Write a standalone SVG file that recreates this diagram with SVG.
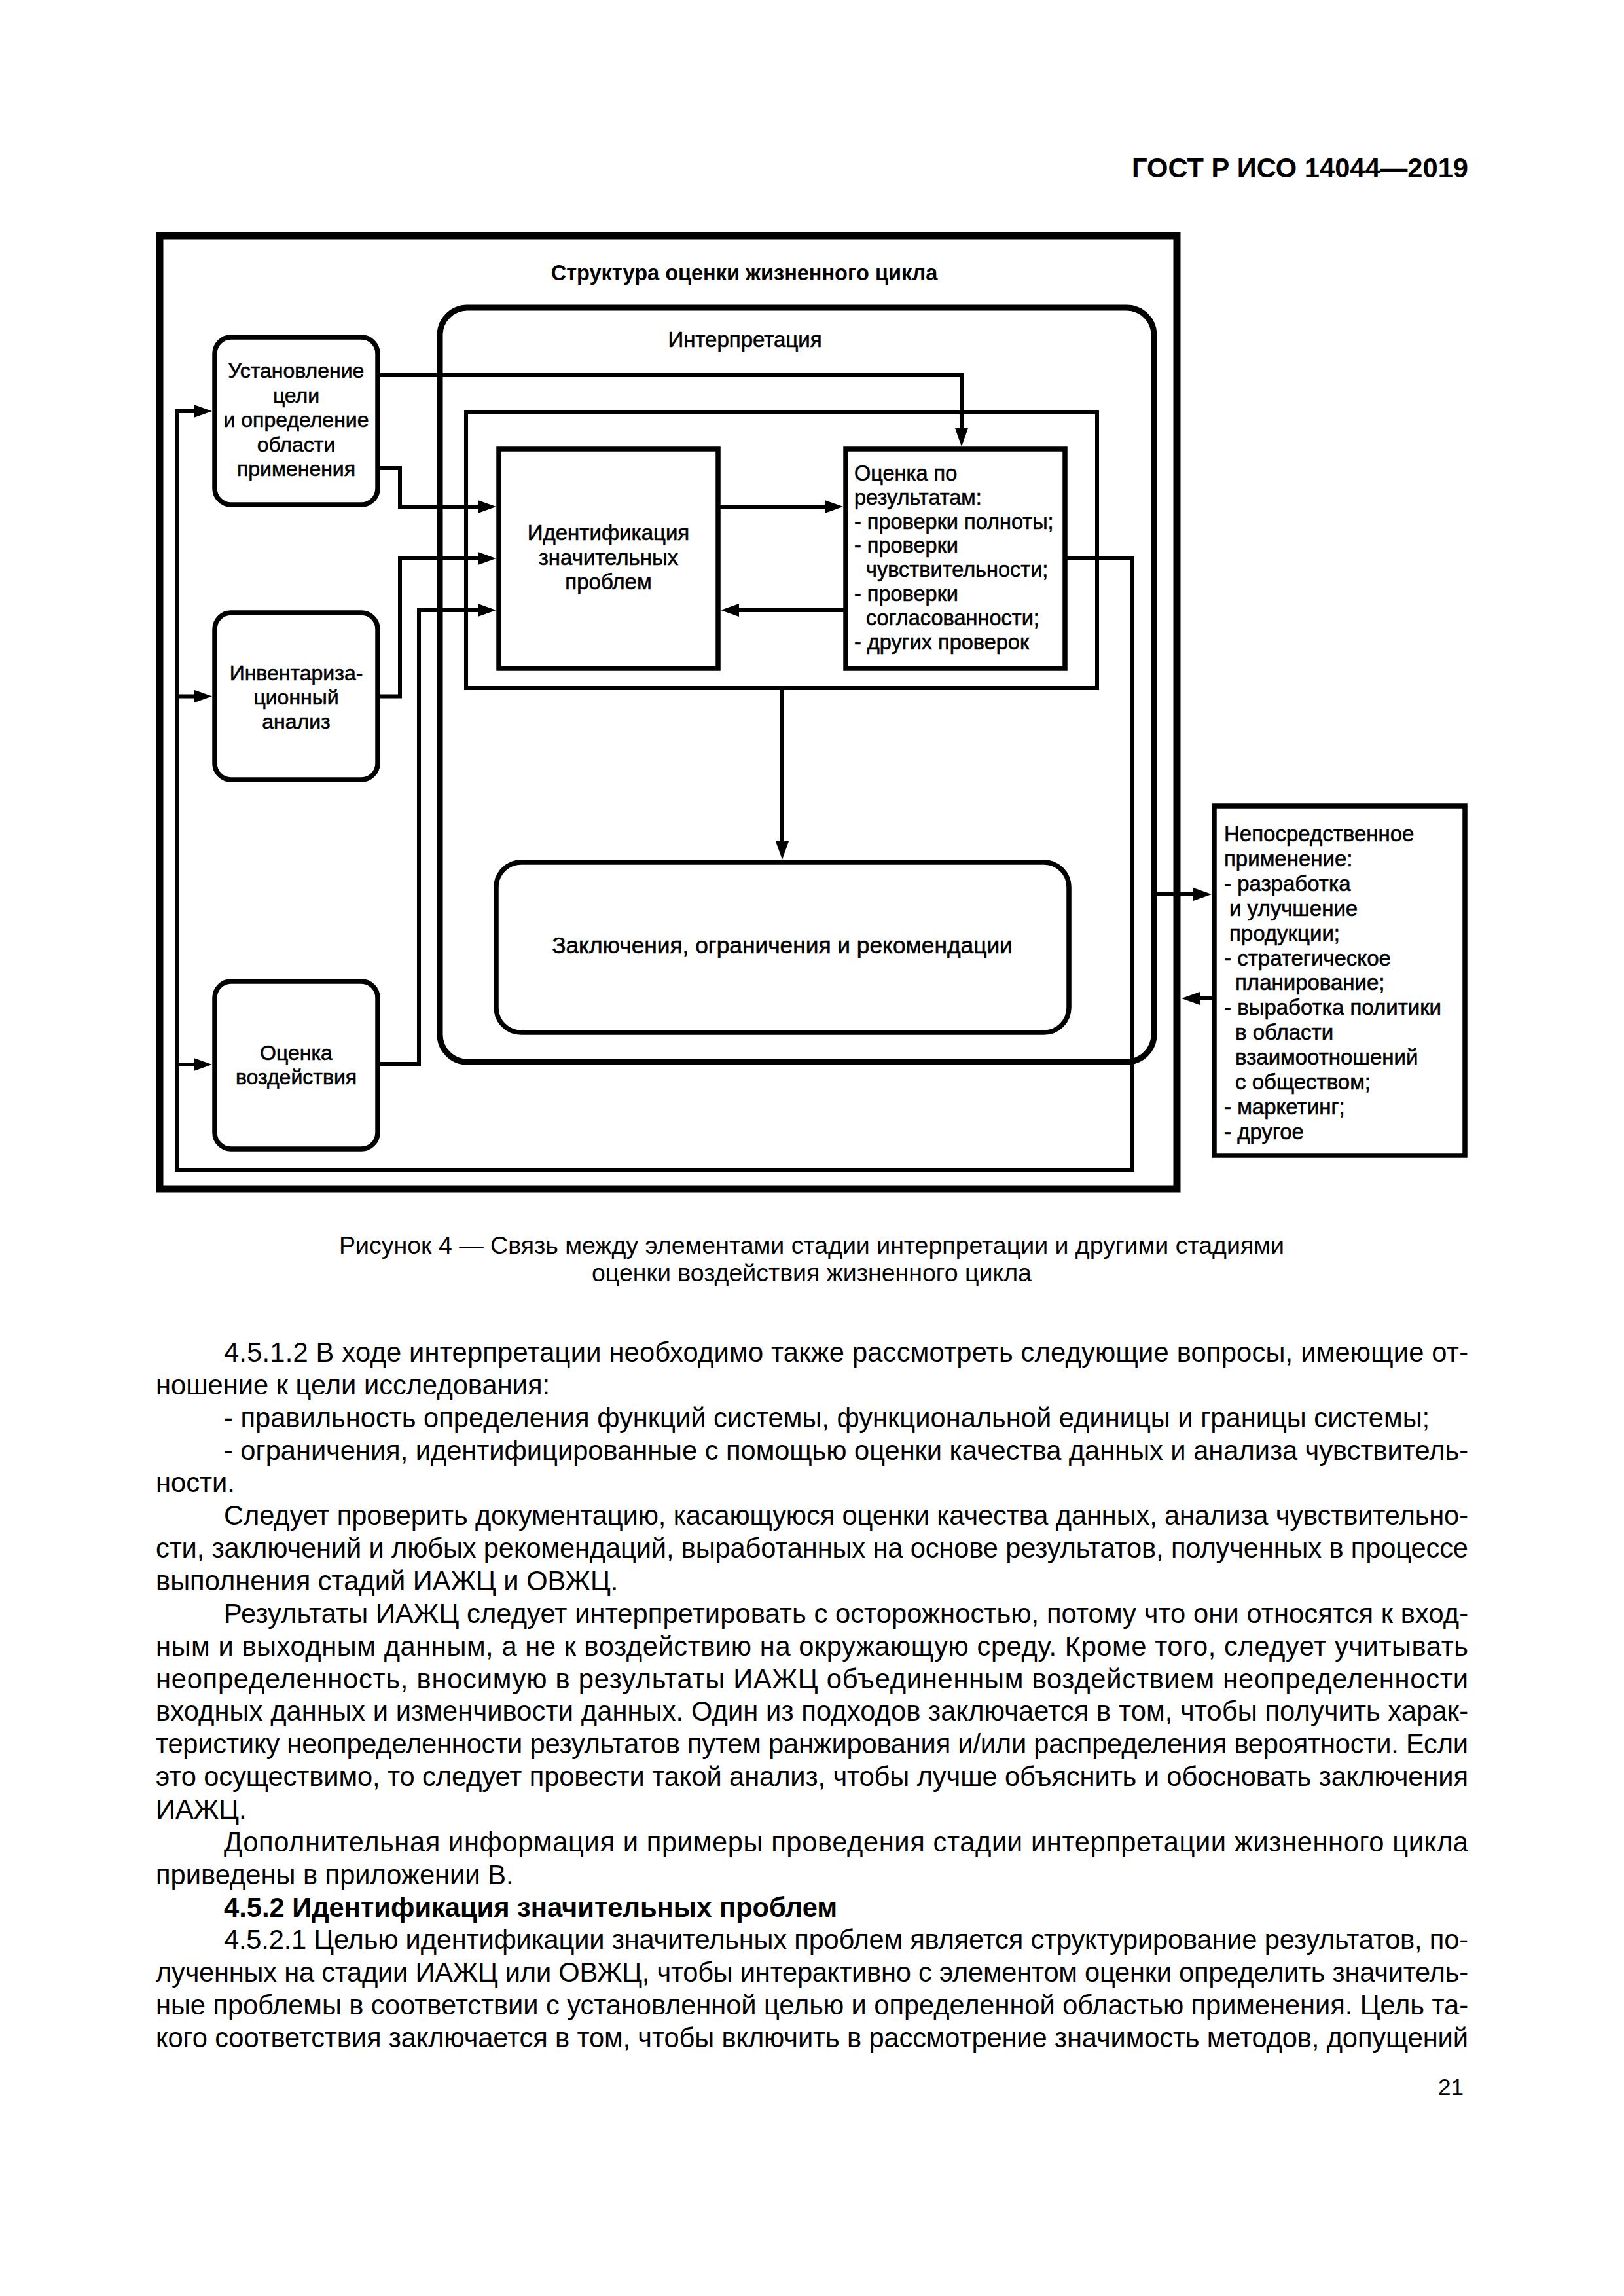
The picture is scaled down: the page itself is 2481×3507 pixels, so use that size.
<svg xmlns="http://www.w3.org/2000/svg" width="2481" height="3507" viewBox="0 0 2481 3507">
<style>
.t{font-family:'Liberation Sans',Arial,sans-serif;font-size:32px;fill:#000}
.d{stroke:#000;stroke-width:0.6px}
.f33{font-size:33px}
.b{font-weight:bold}
.m{text-anchor:middle}
.e{text-anchor:end}
.body{font-size:41.67px}
.cap{font-size:37.5px}
.box{fill:#fff;stroke:#000;stroke-width:7.5}
.cont{fill:none;stroke:#000}
.conn{fill:none;stroke:#000;stroke-width:6}
.arr{marker-end:url(#ah)}
</style>
<defs>
<marker id="ah" markerUnits="userSpaceOnUse" markerWidth="28" markerHeight="20" viewBox="0 0 28 20" refX="18" refY="10" orient="auto">
<path d="M0,0 L28,10 L0,20 Z" fill="#000"/>
</marker>
</defs>
<rect width="2481" height="3507" fill="#fff"/>

<g id="page-header">
<text class="t b body e" x="2243" y="271">ГОСТ Р ИСО 14044—2019</text>
</g>

<g id="frame">
<rect class="cont" x="244" y="360" width="1554" height="1456" stroke-width="11"/>
<text class="t b m" x="1137" y="428" style="font-size:32.5px">Структура оценки жизненного цикла</text>
</g>

<g id="interpretation">
<rect class="cont" x="672" y="470" width="1091" height="1152" rx="42" stroke-width="9"/>
<text class="t d f33 m" x="1138" y="530">Интерпретация</text>
</g>

<g id="inner-loop">
<rect class="cont" x="712" y="630" width="964" height="421" stroke-width="6"/>
</g>

<g id="identification">
<rect class="box" x="762" y="686" width="335" height="335"/>
<text class="t d f33 m" x="929.5" y="825">Идентификация</text>
<text class="t d f33 m" x="929.5" y="862.5">значительных</text>
<text class="t d f33 m" x="929.5" y="900">проблем</text>
</g>

<g id="evaluation">
<rect class="box" x="1292" y="686" width="335" height="335"/>
<g class="t d" style="font-size:32.5px">
<text x="1305" y="734">Оценка по</text>
<text x="1305" y="770.8">результатам:</text>
<text x="1305" y="807.6">- проверки полноты;</text>
<text x="1305" y="844.4">- проверки</text>
<text x="1323" y="881.2">чувствительности;</text>
<text x="1305" y="918">- проверки</text>
<text x="1323" y="954.8">согласованности;</text>
<text x="1305" y="991.6">- других проверок</text>
</g>
</g>

<g id="conclusions">
<rect class="box" x="758" y="1317" width="875" height="260" rx="38"/>
<text class="t d m" x="1195" y="1456" style="font-size:35.3px">Заключения, ограничения и рекомендации</text>
</g>

<g id="goal-scope">
<rect class="box" x="328" y="515" width="249" height="256" rx="25"/>
<text class="t d m" x="452.5" y="577">Установление</text>
<text class="t d m" x="452.5" y="614.5">цели</text>
<text class="t d m" x="452.5" y="652">и определение</text>
<text class="t d m" x="452.5" y="689.5">области</text>
<text class="t d m" x="452.5" y="727">применения</text>
</g>

<g id="inventory">
<rect class="box" x="328" y="936" width="249" height="255" rx="25"/>
<text class="t d m" x="452.5" y="1039">Инвентариза-</text>
<text class="t d m" x="452.5" y="1076">ционный</text>
<text class="t d m" x="452.5" y="1113">анализ</text>
</g>

<g id="impact">
<rect class="box" x="328" y="1499" width="249" height="256" rx="25"/>
<text class="t d m" x="452.5" y="1619">Оценка</text>
<text class="t d m" x="452.5" y="1656">воздействия</text>
</g>

<g id="direct-application">
<rect class="box" x="1855" y="1231" width="383" height="534"/>
<g class="t d f33">
<text x="1870" y="1285">Непосредственное</text>
<text x="1870" y="1322.9">применение:</text>
<text x="1870" y="1360.8">- разработка</text>
<text x="1878" y="1398.7">и улучшение</text>
<text x="1878" y="1436.6">продукции;</text>
<text x="1870" y="1474.5">- стратегическое</text>
<text x="1887" y="1512.4">планирование;</text>
<text x="1870" y="1550.3">- выработка политики</text>
<text x="1887" y="1588.2">в области</text>
<text x="1887" y="1626.1">взаимоотношений</text>
<text x="1887" y="1664">с обществом;</text>
<text x="1870" y="1701.9">- маркетинг;</text>
<text x="1870" y="1739.8">- другое</text>
</g>
</g>

<g id="connectors">
<path class="conn arr" d="M577,573 H1469 V672"/>
<path class="conn arr" d="M577,715 H611 V774 H748"/>
<path class="conn arr" d="M577,1063.5 H611 V853 H748"/>
<path class="conn arr" d="M577,1625 H640 V932 H748"/>
<path class="conn arr" d="M1097,774 H1278"/>
<path class="conn arr" d="M1292,932 H1111"/>
<path class="conn arr" d="M1195,1051 V1303"/>
<path class="conn arr" d="M1627,853 H1730 V1787 H270 V628 H314"/>
<path class="conn arr" d="M270,1063.5 H314"/>
<path class="conn arr" d="M270,1626 H314"/>
<path class="conn arr" d="M1763,1366 H1841"/>
<path class="conn arr" d="M1855,1525 H1815"/>
</g>

<g id="caption">
<text class="t cap m" x="1240" y="1915">Рисунок 4 — Связь между элементами стадии интерпретации и другими стадиями</text>
<text class="t cap m" x="1240" y="1957">оценки воздействия жизненного цикла</text>
</g>

<g id="body-text">
<text class="t body" x="342" y="2080" textLength="1901" lengthAdjust="spacing">4.5.1.2 В ходе интерпретации необходимо также рассмотреть следующие вопросы, имеющие от-</text>
<text class="t body" x="238" y="2129.9">ношение к цели исследования:</text>
<text class="t body" x="342" y="2179.7">- правильность определения функций системы, функциональной единицы и границы системы;</text>
<text class="t body" x="342" y="2229.6" textLength="1901" lengthAdjust="spacing">- ограничения, идентифицированные с помощью оценки качества данных и анализа чувствитель-</text>
<text class="t body" x="238" y="2279.4">ности.</text>
<text class="t body" x="342" y="2329.3" textLength="1901" lengthAdjust="spacing">Следует проверить документацию, касающуюся оценки качества данных, анализа чувствительно-</text>
<text class="t body" x="238" y="2379.1" textLength="2005" lengthAdjust="spacing">сти, заключений и любых рекомендаций, выработанных на основе результатов, полученных в процессе</text>
<text class="t body" x="238" y="2429">выполнения стадий ИАЖЦ и ОВЖЦ.</text>
<text class="t body" x="342" y="2478.8" textLength="1901" lengthAdjust="spacing">Результаты ИАЖЦ следует интерпретировать с осторожностью, потому что они относятся к вход-</text>
<text class="t body" x="238" y="2528.7" textLength="2005" lengthAdjust="spacing">ным и выходным данным, а не к воздействию на окружающую среду. Кроме того, следует учитывать</text>
<text class="t body" x="238" y="2578.5" textLength="2005" lengthAdjust="spacing">неопределенность, вносимую в результаты ИАЖЦ объединенным воздействием неопределенности</text>
<text class="t body" x="238" y="2628.4" textLength="2005" lengthAdjust="spacing">входных данных и изменчивости данных. Один из подходов заключается в том, чтобы получить харак-</text>
<text class="t body" x="238" y="2678.2" textLength="2005" lengthAdjust="spacing">теристику неопределенности результатов путем ранжирования и/или распределения вероятности. Если</text>
<text class="t body" x="238" y="2728.1" textLength="2005" lengthAdjust="spacing">это осуществимо, то следует провести такой анализ, чтобы лучше объяснить и обосновать заключения</text>
<text class="t body" x="238" y="2777.9">ИАЖЦ.</text>
<text class="t body" x="342" y="2827.8" textLength="1901" lengthAdjust="spacing">Дополнительная информация и примеры проведения стадии интерпретации жизненного цикла</text>
<text class="t body" x="238" y="2877.6">приведены в приложении В.</text>
<text class="t body b" x="342" y="2927.5">4.5.2 Идентификация значительных проблем</text>
<text class="t body" x="342" y="2977.3" textLength="1901" lengthAdjust="spacing">4.5.2.1 Целью идентификации значительных проблем является структурирование результатов, по-</text>
<text class="t body" x="238" y="3027.2" textLength="2005" lengthAdjust="spacing">лученных на стадии ИАЖЦ или ОВЖЦ, чтобы интерактивно с элементом оценки определить значитель-</text>
<text class="t body" x="238" y="3077" textLength="2005" lengthAdjust="spacing">ные проблемы в соответствии с установленной целью и определенной областью применения. Цель та-</text>
<text class="t body" x="238" y="3126.9" textLength="2005" lengthAdjust="spacing">кого соответствия заключается в том, чтобы включить в рассмотрение значимость методов, допущений</text>
</g>

<g id="page-number">
<text class="t e" x="2236" y="3200" style="font-size:35px">21</text>
</g>
</svg>
